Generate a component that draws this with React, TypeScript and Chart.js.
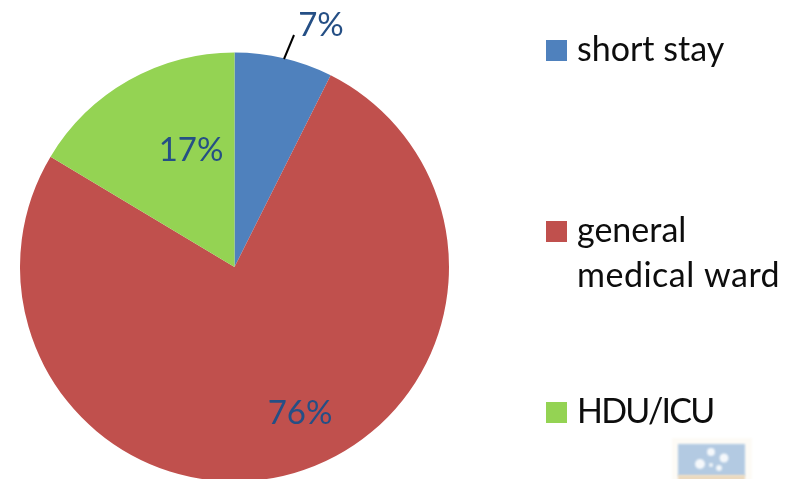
import React, { useEffect, useRef } from "react";
import { Chart, ArcElement, PieController } from "chart.js";

Chart.register(ArcElement, PieController);

const categories = ["short stay", "general medical ward", "HDU/ICU"];
const legendLines = [["short stay"], ["general", "medical ward"], ["HDU/ICU"]];
const values = [7.4, 76.2, 16.4];
const valueLabels = ["7%", "76%", "17%"];
const colors = ["#4F81BD", "#C0504D", "#94D353"];

const LEGEND_FONT = '34px Lato, Carlito, "Open Sans", sans-serif';
const LABEL_FONT = '33px Lato, Carlito, "Open Sans", sans-serif';
const labelSpots = [
  { x: 321, y: 25 },
  { x: 300, y: 413 },
  { x: 191, y: 150 },
];
const legendSpots = [
  { box: 40, lines: [50], spacing: ["0px"] },
  { box: 221, lines: [231, 276], spacing: ["0px", "0.5px"] },
  { box: 402, lines: [412], spacing: ["-1.8px"] },
];

const overlay = {
  id: "overlay",
  afterDraw(chart: any) {
    const ctx = chart.ctx;
    ctx.save();
    // leader line
    ctx.strokeStyle = "#000";
    ctx.lineWidth = 2;
    ctx.beginPath();
    ctx.moveTo(284, 59);
    ctx.lineTo(294, 35);
    ctx.stroke();
    // data labels
    ctx.font = LABEL_FONT;
    ctx.textBaseline = "middle";
    ctx.textAlign = "center";
    ctx.fillStyle = "#254F85";
    valueLabels.forEach((t, i) => ctx.fillText(t, labelSpots[i].x, labelSpots[i].y));
    // legend
    ctx.font = LEGEND_FONT;
    ctx.textAlign = "left";
    categories.forEach((_, i) => {
      const s = legendSpots[i];
      ctx.fillStyle = colors[i];
      ctx.fillRect(546, s.box, 21, 21);
      ctx.fillStyle = "#0d0d0d";
      legendLines[i].forEach((t, j) => {
        ctx.letterSpacing = s.spacing[j];
        ctx.fillText(t, 577, s.lines[j]);
      });
    });
    ctx.letterSpacing = "0px";
    // small faded picture, bottom right
    ctx.filter = "blur(1px)";
    ctx.fillStyle = "#fdfbf6";
    ctx.fillRect(672, 438, 80, 43);
    ctx.fillStyle = "#B3CAE2";
    ctx.fillRect(678, 444, 67, 32);
    ctx.fillStyle = "#EBD9BF";
    ctx.fillRect(678, 475, 67, 6);
    ctx.fillStyle = "#F5F8FB";
    for (const [x, y, r] of [[700, 464, 5], [711, 452, 4], [724, 458, 4.5], [711, 465, 2], [719, 468, 3]]) {
      ctx.beginPath();
      ctx.arc(x, y, r, 0, Math.PI * 2);
      ctx.fill();
    }
    ctx.restore();
  },
};

export default function App() {
  const ref = useRef<HTMLCanvasElement>(null);
  useEffect(() => {
    document.body.style.margin = "0";
    document.body.style.background = "#fff";
    const chart = new Chart(ref.current!, {
      type: "pie",
      data: {
        labels: categories,
        datasets: [{ data: values, backgroundColor: colors, borderWidth: 0 }],
      },
      options: {
        animation: false,
        responsive: false,
        layout: { padding: { left: 20, right: 345, top: 52, bottom: 18 } },
        plugins: { legend: { display: false }, tooltip: { enabled: false } },
      },
      plugins: [overlay],
    } as any);
    return () => chart.destroy();
  }, []);
  return (
    <div style={{ width: 794, height: 479, overflow: "hidden", position: "relative" }}>
      <canvas ref={ref} width={794} height={500} style={{ display: "block" }} />
    </div>
  );
}
